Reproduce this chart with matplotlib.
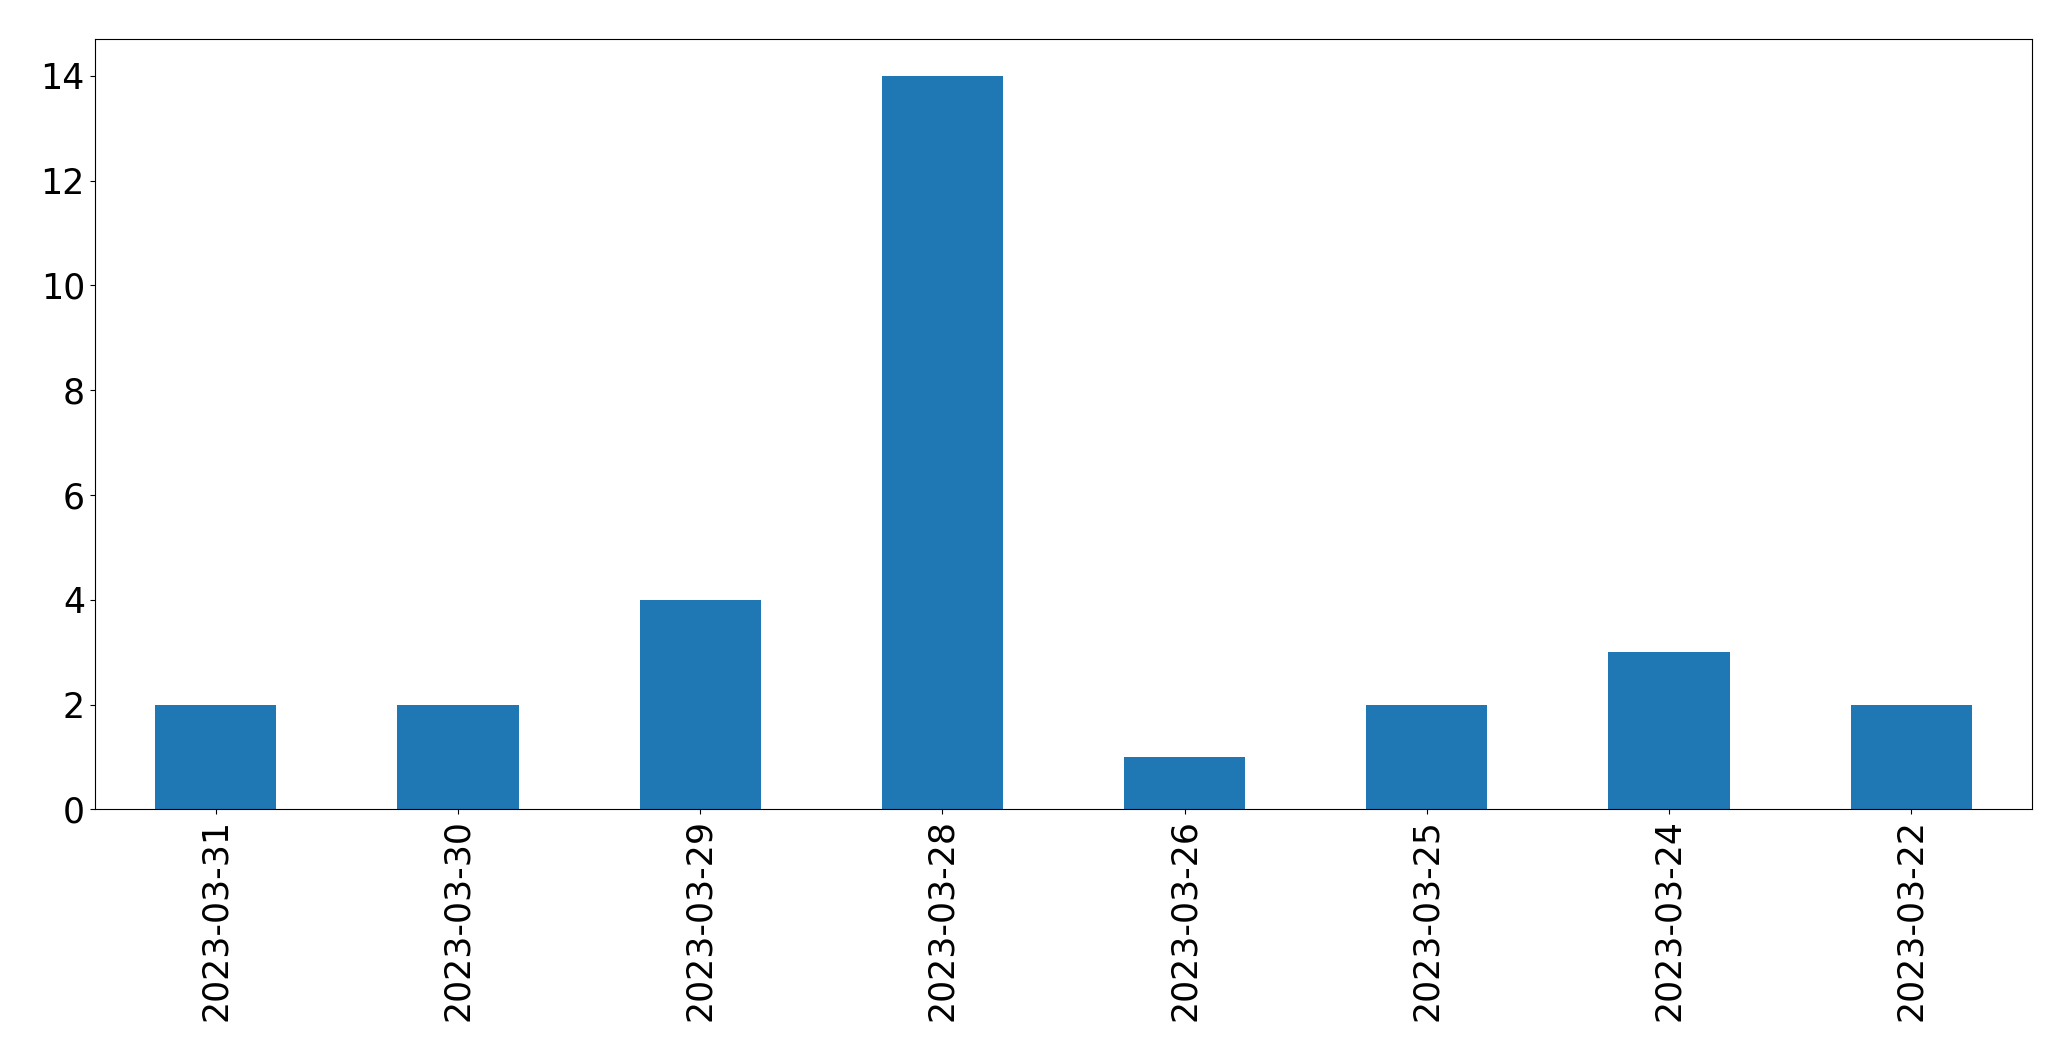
import matplotlib
matplotlib.use("Agg")
from matplotlib import pyplot as plt

# Datas e contagens
dates = ["2023-03-31", "2023-03-30", "2023-03-29", "2023-03-28",
         "2023-03-26", "2023-03-25", "2023-03-24", "2023-03-22"]
counts = [2, 2, 4, 14, 1, 2, 3, 2]

fig = plt.figure(figsize=(20.71, 10.61), dpi=100)
ax = fig.add_axes([94.7 / 2071, 1 - 809.3 / 1061, (2032.3 - 94.7) / 2071, (809.3 - 39.3) / 1061])

x = range(len(dates))
ax.bar(x, counts, width=0.5, color="#1f77b4")
ax.set_xlim(-0.5, len(dates) - 0.5)
ax.set_ylim(0, max(counts) * 1.05)
ax.set_xticks(list(x))
ax.set_xticklabels(dates, rotation=90)
ax.set_yticks(range(0, 15, 2))
ax.tick_params(axis="both", labelsize=25)

fig.savefig("out.png", dpi=100)
